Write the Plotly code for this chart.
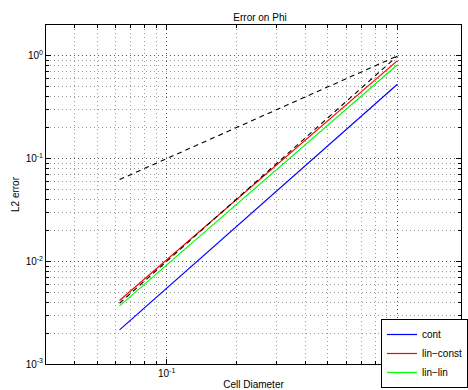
import numpy as np
import plotly.graph_objects as go

# Mesh sizes and L2 errors of Phi for each scheme
cell_diameter = [1.0, 0.5, 0.25, 0.125, 0.0625]
err_cont = [0.53, 0.134, 0.0336, 0.0085, 0.00215]
err_lin_const = [0.90, 0.234, 0.061, 0.0159, 0.00415]
err_lin_lin = [0.82, 0.212, 0.0549, 0.0142, 0.00368]

# Reference slopes (first and second order)
ref_x = [0.0625, 1.0]
ref_order1 = [0.0625, 1.0]
ref_order2 = [0.00390625, 1.0]

series_names = ["cont", "lin\u2212const", "lin\u2212lin"]
series_colors = ["#0000ff", "#ff0000", "#00ff00"]

x_ticks = [0.1, 1.0]
x_ticktext = ["10<sup>-1</sup>", "10<sup>0</sup>"]
y_ticks = [0.001, 0.01, 0.1, 1.0]
y_ticktext = ["10<sup>-3</sup>", "10<sup>-2</sup>", "10<sup>-1</sup>", "10<sup>0</sup>"]

x_minor = [m * 10.0 ** e for e in (-2, -1, 0) for m in range(2, 10)]
y_minor = [m * 10.0 ** e for e in (-3, -2, -1, 0) for m in range(2, 10)]

FONT = "Liberation Sans, Arial, Helvetica, sans-serif"
DOTS = "1px,3px"

fig = go.Figure()
for name, color, ys in zip(series_names, series_colors,
                           [err_cont, err_lin_const, err_lin_lin]):
    fig.add_trace(go.Scatter(x=cell_diameter, y=ys, mode="lines", name=name,
                             line=dict(color=color, width=1.2)))

fig.add_trace(go.Scatter(x=ref_x, y=ref_order1, mode="lines", showlegend=False,
                         line=dict(color="black", width=1.1, dash="5px,4px")))
fig.add_trace(go.Scatter(x=ref_x, y=ref_order2, mode="lines", showlegend=False,
                         line=dict(color="black", width=1.1, dash="5px,4px")))

axis_common = dict(
    type="log", showline=True, linecolor="black", linewidth=1, mirror="ticks",
    ticks="inside", ticklen=5, tickcolor="black", tickwidth=1,
    showgrid=True, gridcolor="#555555", griddash=DOTS, gridwidth=1,
    zeroline=False, automargin=False,
    tickfont=dict(family=FONT, size=10, color="black"),
)
minor_common = dict(tickmode="array", ticks="inside", ticklen=3,
                    tickcolor="black", showgrid=True, gridcolor="#9a9a9a",
                    griddash=DOTS, gridwidth=1)

fig.update_xaxes(
    **axis_common,
    range=[np.log10(0.03), 0.2755],
    tickmode="array", tickvals=x_ticks, ticktext=x_ticktext,
    minor=dict(tickvals=x_minor, **minor_common),
    title=dict(text="Cell Diameter", standoff=13,
               font=dict(family=FONT, size=10, color="black")),
)
fig.update_yaxes(
    **axis_common,
    range=[-3, np.log10(2)],
    tickmode="array", tickvals=y_ticks, ticktext=y_ticktext,
    minor=dict(tickvals=y_minor, **minor_common),
)

# y-axis title placed just left of the tick labels
fig.add_annotation(text="L2 error", xref="paper", yref="paper",
                   x=(15 - 46) / 422, y=0.5, xanchor="center", yanchor="middle",
                   textangle=-90, showarrow=False,
                   font=dict(family=FONT, size=10, color="black"))

fig.update_layout(
    width=468, height=390,
    margin=dict(l=46, r=0, t=25, b=26),
    paper_bgcolor="white", plot_bgcolor="white",
    title=dict(text="Error on Phi", x=(46 + 474) / 2 / 468, xanchor="center",
               y=1 - 17 / 390, yanchor="middle",
               font=dict(family=FONT, size=10, color="black")),
    legend=dict(x=(387 - 46) / 422, xanchor="left",
                y=(364 - 319) / 339, yanchor="top",
                bgcolor="white", bordercolor="black", borderwidth=1,
                font=dict(family=FONT, size=10, color="black"),
                tracegroupgap=0, itemwidth=30),
    showlegend=True,
)

fig.write_html("out.html")
